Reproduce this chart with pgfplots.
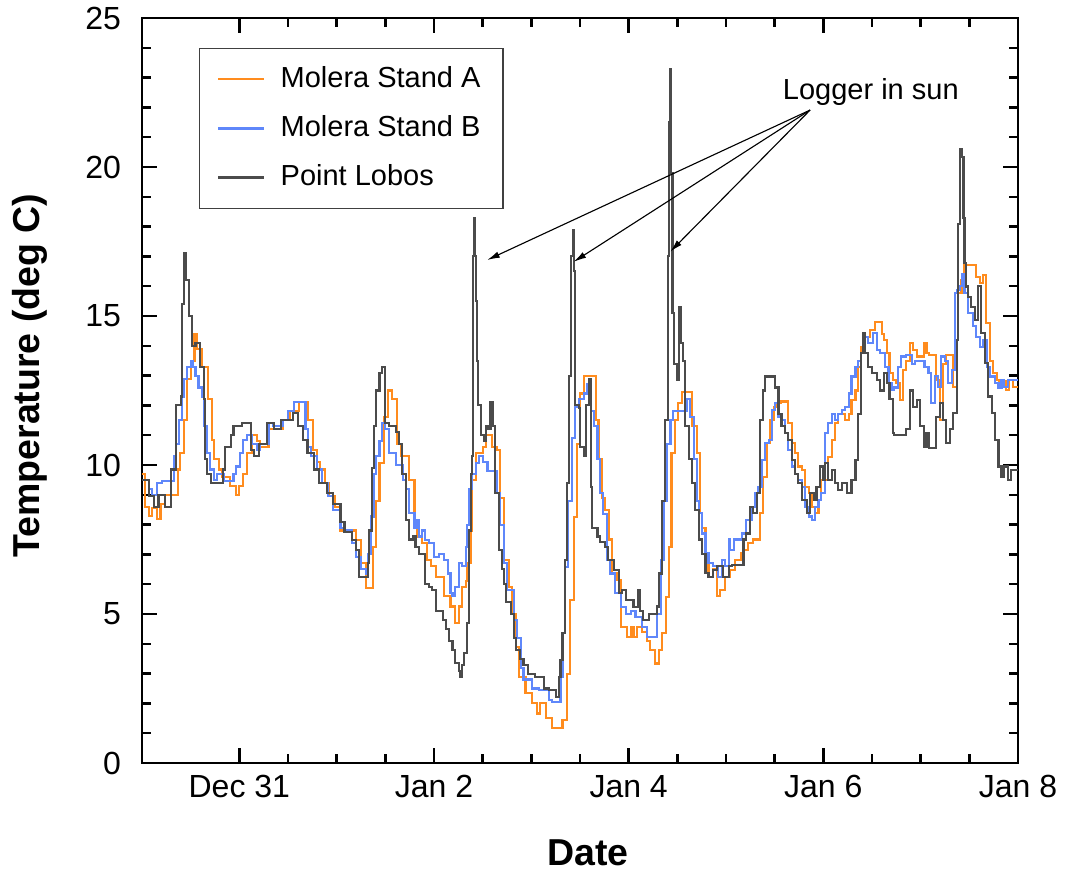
\documentclass[border=0pt]{standalone}
\usepackage{fontspec}
\setmainfont{Liberation Sans}
\usepackage{pgfplots}
\pgfplotsset{compat=1.18}
\usetikzlibrary{arrows.meta}

\definecolor{molA}{RGB}{255,140,30}
\definecolor{molB}{RGB}{95,135,250}
\definecolor{lobos}{RGB}{75,75,75}

% day 0 = Dec 30 00:00, values in deg C (step series)
\pgfplotstableread{
x y
0.00 9.7
0.03 8.6
0.07 8.3
0.10 8.55
0.15 8.2
0.19 8.7
0.24 9.0
0.37 9.85
0.39 10.4
0.43 11.5
0.46 12.9
0.50 13.5
0.54 14.4
0.56 13.9
0.62 13.3
0.68 12.2
0.72 10.85
0.74 10.2
0.79 9.85
0.82 9.6
0.90 9.3
0.97 9.0
1.00 9.3
1.04 9.7
1.08 10.4
1.13 11.0
1.18 10.8
1.21 10.6
1.30 11.2
1.45 11.5
1.52 11.8
1.61 12.1
1.71 11.5
1.76 10.5
1.80 10.1
1.83 9.85
1.88 9.4
1.92 8.95
1.98 8.6
2.04 7.8
2.20 7.48
2.25 6.7
2.30 5.86
2.37 7.26
2.40 8.8
2.44 10.06
2.49 11.6
2.53 12.5
2.57 12.2
2.62 10.7
2.66 10.3
2.74 9.5
2.80 8.0
2.83 7.6
2.88 7.37
2.93 6.8
2.97 6.6
3.02 6.25
3.10 5.6
3.17 5.25
3.22 4.7
3.26 5.25
3.29 5.9
3.33 6.1
3.34 6.7
3.38 7.8
3.39 9.5
3.43 10.4
3.50 10.6
3.53 11.0
3.60 10.6
3.65 10.5
3.68 8.9
3.72 6.8
3.77 5.9
3.80 5.0
3.84 3.9
3.87 2.9
3.94 2.34
4.01 2.0
4.06 1.66
4.09 2.0
4.15 1.5
4.21 1.16
4.32 1.44
4.37 3.0
4.40 5.47
4.44 8.26
4.47 10.7
4.50 12.4
4.54 13.0
4.66 11.5
4.69 10.2
4.73 8.9
4.76 8.5
4.80 7.5
4.83 6.36
4.88 6.14
4.92 4.57
4.98 4.24
5.02 4.57
5.05 4.24
5.09 4.57
5.14 4.4
5.19 4.1
5.22 3.79
5.27 3.34
5.31 3.79
5.34 4.35
5.38 5.58
5.41 7.25
5.44 10.4
5.48 11.5
5.51 12.07
5.55 12.46
5.65 11.3
5.70 10.4
5.73 8.4
5.75 7.9
5.79 7.0
5.82 6.25
5.87 6.5
5.91 5.6
5.94 5.8
5.99 6.25
6.04 6.48
6.09 6.8
6.15 7.04
6.18 7.15
6.23 7.37
6.28 7.5
6.35 8.4
6.38 9.6
6.42 10.73
6.45 11.5
6.49 11.96
6.52 12.07
6.56 12.13
6.64 11.4
6.68 10.73
6.71 10.4
6.74 9.95
6.78 9.83
6.81 9.27
6.85 9.05
6.88 8.6
6.91 8.4
6.95 8.83
6.98 9.5
7.05 10.28
7.09 10.84
7.12 11.4
7.15 11.7
7.22 11.5
7.26 11.7
7.29 12.18
7.33 12.5
7.36 13.3
7.39 13.97
7.43 14.3
7.48 14.53
7.53 14.8
7.60 14.4
7.62 14.2
7.65 13.75
7.68 13.08
7.72 12.85
7.75 12.74
7.79 12.18
7.82 13.19
7.85 13.5
7.89 14.09
7.92 13.86
7.96 13.64
8.03 14.09
8.06 13.75
8.09 13.7
8.16 12.85
8.20 11.5
8.23 13.4
8.26 13.7
8.33 12.63
8.37 14.2
8.38 15.76
8.42 16.2
8.45 16.7
8.57 16.3
8.61 16.1
8.64 16.38
8.67 14.76
8.71 13.5
8.74 13.08
8.78 12.85
8.81 12.63
8.85 12.8
8.88 12.52
8.91 12.85
8.95 12.63
9.00 12.63
}\standA

\pgfplotstableread{
x y
0.00 9.5
0.07 9.2
0.10 9.0
0.15 9.4
0.21 9.45
0.33 10.3
0.35 10.7
0.38 11.5
0.41 12.3
0.43 12.9
0.46 13.3
0.50 13.5
0.52 13.3
0.55 13.0
0.58 12.6
0.62 12.3
0.64 11.3
0.67 10.4
0.70 9.85
0.74 9.5
0.77 9.7
0.84 9.45
0.94 9.7
0.97 9.95
1.01 10.4
1.04 10.85
1.08 11.0
1.13 10.7
1.18 10.5
1.21 10.7
1.30 11.4
1.35 11.3
1.45 11.5
1.50 11.8
1.56 12.1
1.68 11.2
1.71 10.6
1.74 10.3
1.80 9.85
1.85 9.4
1.91 8.95
1.96 8.5
2.04 7.9
2.08 7.8
2.16 7.37
2.20 6.9
2.25 6.5
2.30 6.36
2.32 7.0
2.35 8.27
2.38 9.7
2.40 10.3
2.44 10.8
2.47 11.4
2.50 11.2
2.54 10.4
2.61 10.0
2.68 9.5
2.71 9.2
2.74 8.4
2.80 7.9
2.83 8.15
2.85 7.6
2.88 7.8
2.91 7.48
2.95 7.37
3.00 6.9
3.05 7.0
3.10 6.8
3.14 6.36
3.17 5.7
3.19 5.6
3.22 5.9
3.26 6.7
3.29 6.6
3.33 7.26
3.34 8.0
3.36 9.2
3.39 9.7
3.43 10.06
3.46 10.3
3.50 10.1
3.55 9.8
3.65 9.05
3.68 8.0
3.72 6.7
3.75 5.8
3.82 4.8
3.85 4.2
3.89 3.2
3.92 2.8
4.01 2.5
4.08 2.45
4.18 2.1
4.21 2.06
4.30 2.9
4.32 4.35
4.35 6.58
4.38 8.8
4.42 10.9
4.45 11.95
4.49 12.2
4.54 12.4
4.57 12.7
4.61 11.8
4.64 11.3
4.68 10.2
4.71 9.05
4.74 8.37
4.78 6.8
4.81 6.36
4.86 5.7
4.92 5.24
4.97 5.0
5.02 5.1
5.07 4.9
5.14 4.57
5.19 4.24
5.29 5.0
5.33 6.8
5.36 8.8
5.39 10.7
5.43 11.5
5.46 11.8
5.60 12.2
5.63 11.6
5.67 10.2
5.70 8.8
5.72 8.4
5.75 7.7
5.79 7.04
5.82 6.7
5.87 6.6
5.92 6.25
5.96 6.8
5.99 6.6
6.03 7.5
6.04 7.15
6.08 7.5
6.16 7.7
6.21 8.15
6.27 8.6
6.30 9.05
6.33 9.27
6.37 10.17
6.40 10.73
6.44 10.84
6.47 11.85
6.50 12.07
6.54 11.6
6.57 11.5
6.61 11.07
6.64 10.5
6.68 9.95
6.71 9.7
6.74 9.5
6.78 9.27
6.81 8.6
6.85 8.27
6.88 8.15
6.91 8.6
6.95 8.83
6.98 9.05
7.02 11.07
7.05 11.4
7.09 11.7
7.12 11.5
7.15 11.7
7.19 11.85
7.22 11.96
7.26 12.4
7.29 12.97
7.33 13.3
7.36 13.5
7.39 13.75
7.43 14.3
7.46 14.09
7.51 14.42
7.55 13.86
7.58 13.75
7.63 13.3
7.67 12.74
7.70 12.52
7.73 12.6
7.77 13.3
7.80 13.64
7.85 13.7
7.91 13.4
7.94 13.5
8.04 13.3
8.08 13.08
8.11 12.07
8.15 13.0
8.18 12.63
8.21 13.64
8.25 13.5
8.28 12.74
8.32 13.2
8.35 15.76
8.37 15.88
8.40 16.0
8.43 16.4
8.45 15.76
8.49 15.1
8.54 14.65
8.57 14.3
8.61 13.97
8.64 14.2
8.68 13.3
8.71 12.97
8.76 12.74
8.80 12.58
8.83 12.85
8.86 12.63
8.90 12.85
9.00 12.85
}\standB

\pgfplotstableread{
x y
0.00 9.5
0.07 8.95
0.12 8.6
0.17 9.0
0.24 8.6
0.30 9.85
0.35 12.0
0.40 12.3
0.415 15.4
0.435 17.1
0.455 16.2
0.48 15.0
0.51 14.0
0.55 14.1
0.60 13.3
0.635 12.2
0.65 10.2
0.67 9.7
0.71 9.4
0.83 9.85
0.85 10.6
0.91 11.0
0.94 11.3
1.03 11.4
1.12 10.5
1.15 10.3
1.20 10.7
1.28 11.4
1.36 11.2
1.43 11.5
1.55 11.75
1.60 11.3
1.65 10.85
1.70 10.4
1.77 9.85
1.82 9.4
1.90 9.06
1.96 8.7
2.04 8.1
2.08 7.76
2.16 7.48
2.20 7.15
2.23 6.25
2.32 6.7
2.33 7.8
2.36 9.9
2.38 11.3
2.40 12.5
2.44 13.1
2.47 13.3
2.50 11.4
2.54 11.3
2.61 11.1
2.64 10.7
2.67 9.7
2.71 8.15
2.74 7.5
2.78 7.6
2.81 7.26
2.85 7.0
2.91 6.0
2.95 5.9
2.98 5.8
3.02 5.1
3.09 4.8
3.12 4.5
3.15 4.1
3.19 3.8
3.22 3.35
3.26 3.1
3.27 2.9
3.29 3.3
3.31 3.7
3.34 4.7
3.36 7.8
3.38 9.7
3.39 10.3
3.40 17.0
3.415 18.3
3.425 17.0
3.435 15.5
3.445 13.5
3.455 12.0
3.48 11.0
3.51 10.8
3.53 11.3
3.56 11.2
3.58 12.1
3.61 11.3
3.63 9.05
3.67 7.15
3.70 6.5
3.72 6.0
3.74 5.4
3.79 5.0
3.82 4.2
3.84 3.8
3.88 3.5
3.92 3.3
3.97 3.0
4.04 2.9
4.13 2.5
4.18 2.45
4.25 2.22
4.28 2.9
4.30 3.45
4.32 4.35
4.35 6.8
4.37 9.4
4.39 13.0
4.41 17.0
4.425 17.9
4.435 16.5
4.45 12.0
4.49 11.9
4.50 10.6
4.54 10.3
4.56 12.0
4.59 12.9
4.61 9.27
4.62 7.9
4.68 7.6
4.71 7.42
4.76 7.25
4.79 6.8
4.85 6.47
4.90 5.7
4.93 5.8
4.97 5.47
5.05 5.24
5.10 5.8
5.12 5.1
5.15 4.8
5.21 5.0
5.29 5.25
5.31 6.36
5.34 8.8
5.37 11.5
5.40 17.0
5.415 21.5
5.425 23.3
5.435 19.8
5.45 15.1
5.47 13.4
5.50 12.85
5.52 15.3
5.54 14.1
5.56 13.5
5.58 11.3
5.62 10.2
5.65 9.4
5.68 8.5
5.72 7.5
5.75 7.0
5.79 6.37
5.82 6.25
5.87 6.48
5.91 6.6
5.97 6.25
6.03 6.6
6.06 6.65
6.18 7.5
6.21 7.7
6.25 8.6
6.28 8.4
6.32 9.05
6.35 11.5
6.38 12.5
6.40 12.97
6.50 12.6
6.54 11.7
6.57 11.3
6.61 11.07
6.64 10.84
6.68 10.17
6.71 9.7
6.74 9.4
6.78 8.83
6.83 8.4
6.86 9.05
6.90 8.83
6.93 9.27
6.97 9.95
7.00 9.5
7.02 10.06
7.05 9.5
7.09 9.83
7.12 9.4
7.15 9.17
7.19 9.4
7.24 9.05
7.29 9.5
7.33 10.17
7.36 11.7
7.39 13.75
7.41 14.42
7.43 13.75
7.46 13.3
7.50 13.08
7.55 12.85
7.58 12.5
7.62 13.08
7.65 12.74
7.68 12.2
7.72 11.07
7.73 11.0
7.85 11.2
7.89 12.5
7.92 11.96
7.96 12.18
7.99 11.3
8.03 10.62
8.06 11.07
8.09 10.56
8.16 11.6
8.20 12.07
8.23 11.5
8.26 10.73
8.30 11.2
8.33 11.74
8.37 14.2
8.38 18.1
8.40 20.6
8.42 20.35
8.44 18.3
8.45 16.77
8.47 15.99
8.49 15.65
8.52 15.3
8.56 14.87
8.59 16.0
8.62 14.42
8.66 13.42
8.69 12.3
8.73 11.74
8.76 10.84
8.80 9.95
8.83 9.6
8.86 9.95
8.90 9.5
8.93 9.84
9.00 9.84
}\lobos

\begin{document}
\begin{tikzpicture}
\useasboundingbox (-56.8pt,-45.2pt) rectangle (369.2pt,305.2pt);
\begin{axis}[
    at={(0,0)}, anchor=south west,
    scale only axis,
    width=350.4pt, height=298pt,
    xmin=0, xmax=9, ymin=0, ymax=25,
    xtick={1,3,5,7,9},
    xticklabels={Dec 31,Jan 2,Jan 4,Jan 6,Jan 8},
    minor x tick num=3,
    ytick={0,5,10,15,20,25},
    minor y tick num=4,
    tick pos=both,
    xticklabel pos=lower, yticklabel pos=left,
    tick align=inside,
    major tick length=6pt, minor tick length=3.6pt,
    tick style={black, line width=1pt},
    axis line style={line width=1.1pt},
    /pgf/number format/assume math mode=true,
    ticklabel style={font=\fontsize{12.8}{15}\selectfont},
    xticklabel style={yshift=-1.3pt},
    yticklabel style={xshift=-4.9pt},
    xlabel={Date},
    ylabel={Temperature (deg C)},
    label style={font=\fontsize{15}{18}\selectfont\bfseries},
    xlabel style={at={(axis description cs:0.509,0)}, anchor=center, yshift=-36pt},
    ylabel style={at={(axis description cs:0,0.52)}, anchor=center, yshift=44.8pt},
    legend style={at={(axis description cs:0.065,0.960)}, anchor=north west,
        draw=black!75, line width=0.6pt,
        font=\fontsize{11.6}{13.5}\selectfont,
        inner xsep=7pt, inner ysep=5.5pt, row sep=6.2pt,
        /tikz/every odd column/.append style={column sep=4pt},
        cells={anchor=west, text height=8pt, text depth=2pt}},
    legend image code/.code={\draw[#1, line width=1pt] (0pt,0pt) -- (18.4pt,0pt);},
    every axis plot/.append style={const plot mark left, line width=0.85pt, mark=none},
]
\addplot[color=molA] table[x=x, y=y] {\standA};
\addlegendentry{Molera Stand A}
\addplot[color=molB] table[x=x, y=y] {\standB};
\addlegendentry{Molera Stand B}
\addplot[color=lobos] table[x=x, y=y] {\lobos};
\addlegendentry{Point Lobos}

\node[anchor=base west, font=\fontsize{11.6}{13.5}\selectfont, inner sep=0pt]
    at (axis cs:6.58,22.25) {Logger in sun};
\draw[-{Latex[length=5pt,width=2.6pt]}, line width=0.45pt]
    (axis cs:6.864,21.91) -- (axis cs:3.547,16.88);
\draw[-{Latex[length=5pt,width=2.6pt]}, line width=0.45pt]
    (axis cs:6.864,21.91) -- (axis cs:4.436,16.82);
\draw[-{Latex[length=5pt,width=2.6pt]}, line width=0.45pt]
    (axis cs:6.864,21.91) -- (axis cs:5.428,17.16);
\end{axis}
\end{tikzpicture}
\end{document}
